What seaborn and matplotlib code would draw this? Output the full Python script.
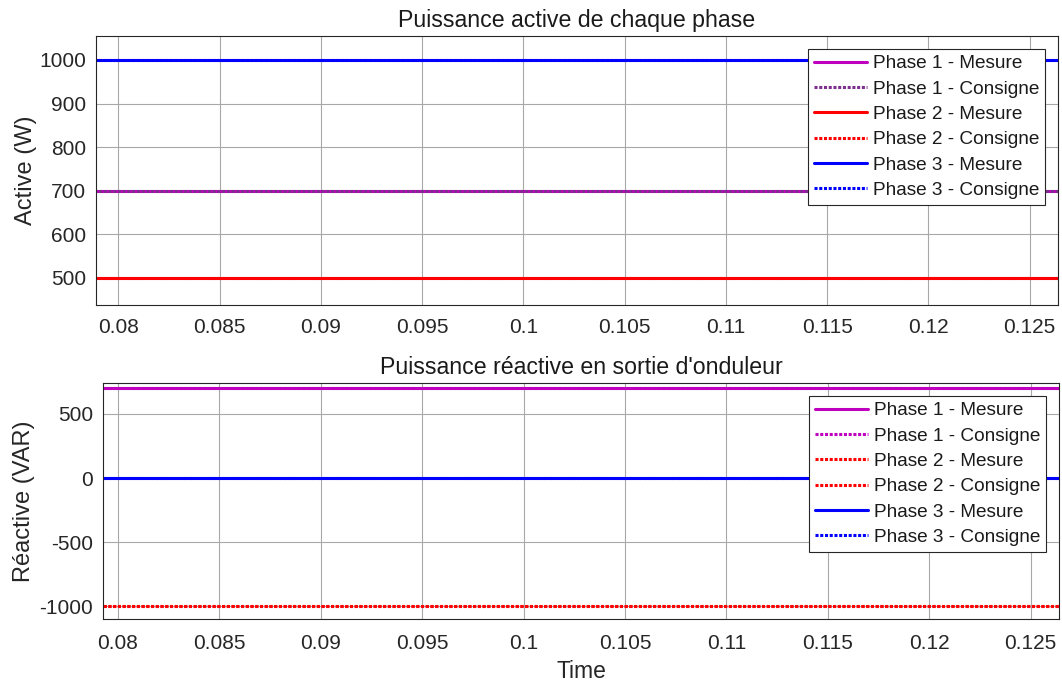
import numpy as np
import pandas as pd
import matplotlib
matplotlib.use("Agg")
import matplotlib.pyplot as plt
import seaborn as sns

# ==========================================
# DATA
# ==========================================

time = [0.070, 0.130]

phases = ["Phase 1", "Phase 2", "Phase 3"]

# active power (W), measured and setpoint
active_mesure = [700, 500, 1000]
active_consigne = [700, 500, 1000]

# reactive power (VAR), measured and setpoint
reactive_mesure = [700, -1000, 0]
reactive_consigne = [700, -1000, 0]

x_ticks = [0.08, 0.085, 0.09, 0.095, 0.1, 0.105, 0.11, 0.115, 0.12, 0.125]
x_tick_labels = ["0.08", "0.085", "0.09", "0.095", "0.1", "0.105", "0.11", "0.115", "0.12", "0.125"]

active_ticks = [500, 600, 700, 800, 900, 1000]
reactive_ticks = [-1000, -500, 0, 500]

# ==========================================
# STYLE
# ==========================================

sns.set_style("whitegrid")
plt.rcParams['font.family'] = ['Liberation Sans', 'DejaVu Sans']
plt.rcParams['axes.unicode_minus'] = False

dark = '#262626'
magenta = (0.75, 0.0, 0.75)
purple = (0.494, 0.184, 0.557)
dotted = (0, (1, 0.55))

fig = plt.figure(figsize=(10.62, 6.86), dpi=100)
ax1 = fig.add_axes([0.0904, 0.5554, 0.9058, 0.3921])
ax2 = fig.add_axes([0.0970, 0.0977, 0.9002, 0.3440])


def draw(ax, vals, label, color, ls):
    df = pd.DataFrame({"t": time, "v": [vals, vals]})
    sns.lineplot(data=df, x="t", y="v", ax=ax, color=color, linestyle=ls,
                 linewidth=2.2, label=label)


# top: active power
draw(ax1, active_mesure[0], "Phase 1 - Mesure", magenta, "-")
draw(ax1, active_consigne[0], "Phase 1 - Consigne", purple, dotted)
draw(ax1, active_mesure[1], "Phase 2 - Mesure", "red", "-")
draw(ax1, active_consigne[1], "Phase 2 - Consigne", "red", dotted)
draw(ax1, active_mesure[2], "Phase 3 - Mesure", "blue", "-")
draw(ax1, active_consigne[2], "Phase 3 - Consigne", "blue", dotted)

# bottom: reactive power
draw(ax2, reactive_mesure[0], "Phase 1 - Mesure", magenta, "-")
draw(ax2, reactive_consigne[0], "Phase 1 - Consigne", magenta, dotted)
draw(ax2, reactive_mesure[1], "Phase 2 - Mesure", "red", dotted)
draw(ax2, reactive_consigne[1], "Phase 2 - Consigne", "red", dotted)
draw(ax2, reactive_mesure[2], "Phase 3 - Mesure", "blue", "-")
draw(ax2, reactive_consigne[2], "Phase 3 - Consigne", "blue", dotted)

for ax in (ax1, ax2):
    ax.set_xticks(x_ticks)
    ax.set_xticklabels(x_tick_labels)
    ax.tick_params(axis='both', direction='in', length=5, labelsize=15,
                   color=dark, labelcolor=dark)
    ax.tick_params(axis='y', pad=7)
    ax.grid(True, color='#a8a8a8', linewidth=0.8)
    for s in ax.spines.values():
        s.set_color(dark)
        s.set_linewidth(0.8)
    leg = ax.legend(loc='upper right', fontsize=13.7, frameon=True, fancybox=False,
                    framealpha=1, edgecolor=dark, borderpad=0.3,
                    labelspacing=0.42, handlelength=2.8, handletextpad=0.3,
                    borderaxespad=0.7)
    leg.get_frame().set_linewidth(0.8)
    for t in leg.get_texts():
        t.set_color('#1a1a1a')

ax1.set_xlim(0.0789, 0.1264)
ax1.tick_params(axis='x', pad=9.5)
ax1.set_ylim(438, 1055)
ax1.set_yticks(active_ticks)
ax1.set_xlabel("")
ax1.set_ylabel("Active (W)", fontsize=17, color=dark, labelpad=2)
ax1.set_title("Puissance active de chaque phase", fontsize=16.7, color='#1a1a1a', pad=6.5)

ax2.set_xlim(0.07926, 0.1264)
ax2.tick_params(axis='x', pad=11)
ax2.set_ylim(-1100, 742)
ax2.set_yticks(reactive_ticks)
ax2.set_xlabel("Time", fontsize=16.5, color=dark, labelpad=5)
ax2.set_ylabel("Réactive (VAR)", fontsize=17, color=dark, labelpad=3)
ax2.set_title("Puissance réactive en sortie d'onduleur", fontsize=16.7, color='#1a1a1a', pad=6.5)

plt.savefig("out.png", dpi=100)
